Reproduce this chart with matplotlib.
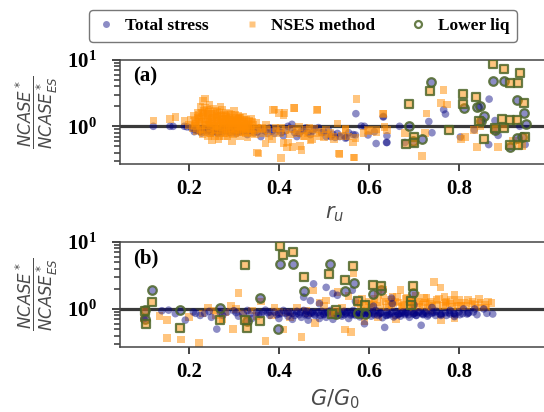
import numpy as np
import matplotlib
matplotlib.use("Agg")
import matplotlib.pyplot as plt
from matplotlib.lines import Line2D
from matplotlib.ticker import FuncFormatter, NullFormatter, LogLocator, FixedLocator

plt.rcParams["font.family"] = ["Liberation Serif", "DejaVu Serif"]
plt.rcParams["mathtext.fontset"] = "custom"
plt.rcParams["mathtext.rm"] = "DejaVu Sans"
plt.rcParams["mathtext.it"] = "DejaVu Sans:italic"
plt.rcParams["mathtext.bf"] = "Liberation Serif:bold"

# ---------------- panel (a): ratio vs r_u ----------------
a_ts_x = [0.121, 0.158, 0.165, 0.190, 0.196, 0.205, 0.210, 0.215, 0.220, 0.225,
          0.230, 0.235, 0.240, 0.245, 0.250, 0.255, 0.260, 0.265, 0.270, 0.275,
          0.280, 0.285, 0.290, 0.295, 0.300, 0.305, 0.310, 0.315, 0.320, 0.325,
          0.330, 0.335, 0.340, 0.345, 0.212, 0.228, 0.243, 0.258, 0.273, 0.288,
          0.303, 0.318, 0.333, 0.355, 0.360, 0.370, 0.380, 0.390, 0.400, 0.410,
          0.420, 0.429, 0.435, 0.440, 0.450, 0.460, 0.470, 0.480, 0.488, 0.495,
          0.505, 0.510, 0.520, 0.525, 0.535, 0.545, 0.555, 0.565, 0.570, 0.571,
          0.583, 0.598, 0.616, 0.632, 0.640, 0.640, 0.668, 0.632, 0.639, 0.680,
          0.733, 0.766, 0.770, 0.740, 0.867, 0.803, 0.834, 0.866, 0.887, 0.947,
          0.935, 0.880, 0.850, 0.590, 0.612, 0.548,
          0.218, 0.226, 0.234, 0.242, 0.252, 0.262, 0.272, 0.282, 0.292, 0.302,
          0.312, 0.322, 0.332, 0.342, 0.352, 0.365, 0.375, 0.385, 0.395, 0.405,
          0.415, 0.430, 0.445, 0.455, 0.465, 0.475, 0.500, 0.515, 0.530, 0.550]
a_ts_y = [1.00, 1.00, 1.00, 1.00, 0.98, 0.95, 0.92, 0.88, 0.90, 0.85,
          0.93, 0.87, 0.82, 0.90, 0.80, 0.86, 0.92, 0.78, 0.84, 0.90,
          0.88, 0.95, 0.82, 0.92, 0.86, 0.78, 0.90, 0.94, 0.84, 0.88,
          0.75, 0.92, 0.86, 0.80, 0.83, 0.79, 0.94, 0.85, 0.80, 0.90,
          0.83, 0.87, 0.96, 0.92, 0.70, 0.85, 0.95, 0.78, 0.88, 0.72,
          1.00, 1.07, 0.80, 0.70, 0.85, 0.95, 0.75, 0.92, 0.955, 0.80,
          0.70, 0.88, 0.76, 0.68, 0.70, 0.72, 0.80, 0.75, 0.74, 1.55,
          1.01, 0.74, 0.55, 1.38, 0.72, 0.57, 1.00, 1.41, 0.57, 0.57,
          1.18, 1.78, 1.53, 0.80, 2.57, 0.69, 0.88, 0.53, 0.73, 0.53,
          1.00, 1.22, 1.19, 1.00, 0.83, 0.66,
          0.88, 0.84, 0.90, 0.86, 0.83, 0.80, 0.88, 0.85, 0.80, 0.88,
          0.82, 0.90, 0.85, 0.90, 0.82, 0.88, 0.78, 0.85, 0.92, 0.80,
          0.86, 0.90, 0.78, 0.88, 0.80, 0.85, 0.82, 0.70, 0.78, 0.68]

a_ns_x = [0.121, 0.158, 0.170, 0.190, 0.200, 0.205, 0.208, 0.212, 0.215, 0.218,
          0.220, 0.222, 0.224, 0.226, 0.228, 0.230, 0.232, 0.234, 0.236, 0.238,
          0.240, 0.242, 0.244, 0.246, 0.248, 0.250, 0.252, 0.254, 0.256, 0.258,
          0.260, 0.262, 0.264, 0.266, 0.268, 0.270, 0.272, 0.274, 0.276, 0.278,
          0.280, 0.282, 0.284, 0.286, 0.288, 0.290, 0.292, 0.294, 0.296, 0.298,
          0.300, 0.302, 0.305, 0.308, 0.310, 0.313, 0.316, 0.318, 0.320, 0.323,
          0.326, 0.328, 0.330, 0.333, 0.336, 0.338, 0.340, 0.343, 0.346, 0.350,
          0.225, 0.235, 0.245, 0.255, 0.265, 0.275, 0.285, 0.295, 0.305, 0.315,
          0.232, 0.248, 0.262, 0.278, 0.292, 0.308, 0.322, 0.338, 0.214, 0.352,
          0.351, 0.355, 0.360, 0.365, 0.372, 0.378, 0.385, 0.387, 0.390, 0.395,
          0.400, 0.405, 0.405, 0.410, 0.410, 0.412, 0.418, 0.420, 0.425, 0.430,
          0.433, 0.435, 0.440, 0.445, 0.447, 0.450, 0.455, 0.460, 0.465, 0.470,
          0.473, 0.478, 0.484, 0.486, 0.490, 0.495, 0.500, 0.505, 0.510, 0.515,
          0.520, 0.523, 0.530, 0.533, 0.535, 0.540, 0.548, 0.548, 0.555, 0.564,
          0.566, 0.568, 0.570, 0.572, 0.588, 0.598, 0.600, 0.616, 0.617, 0.631,
          0.632, 0.635, 0.640, 0.680, 0.718, 0.725, 0.728, 0.760, 0.766, 0.774,
          0.804, 0.814, 0.834, 0.840, 0.848, 0.877, 0.887, 0.920, 0.940, 0.370,
          0.214, 0.219, 0.223, 0.227, 0.231, 0.237, 0.241, 0.247, 0.251, 0.257,
          0.261, 0.267, 0.271, 0.277, 0.281, 0.287, 0.291, 0.297, 0.301, 0.307,
          0.311, 0.317, 0.321, 0.327, 0.331, 0.337, 0.341, 0.347, 0.233, 0.243,
          0.253, 0.263, 0.273, 0.283, 0.293, 0.303, 0.313, 0.323, 0.238, 0.258,
          0.268, 0.283, 0.298, 0.312, 0.326, 0.228, 0.250, 0.270, 0.290, 0.310,
          0.362, 0.375, 0.392, 0.402, 0.415, 0.428, 0.442, 0.457, 0.468, 0.482,
          0.216, 0.221, 0.229, 0.236, 0.244, 0.252, 0.259, 0.266, 0.274, 0.281,
          0.289, 0.296, 0.304, 0.311, 0.319, 0.326, 0.334, 0.241, 0.256, 0.271,
          0.286, 0.301, 0.316, 0.331, 0.246, 0.261, 0.276, 0.291, 0.306, 0.321]
a_ns_y = [1.23, 1.30, 1.38, 1.20, 1.05, 1.25, 0.95, 1.45, 1.10, 0.85,
          1.60, 1.30, 0.90, 1.96, 1.15, 0.75, 2.40, 1.45, 2.63, 1.05,
          1.80, 0.70, 1.25, 2.10, 0.95, 1.55, 0.62, 1.35, 1.10, 1.70,
          0.85, 1.45, 1.20, 0.65, 1.60, 2.00, 1.00, 1.30, 0.78, 1.50,
          1.15, 0.90, 1.40, 0.70, 1.25, 1.55, 0.95, 1.35, 0.60, 1.10,
          1.70, 0.80, 1.30, 1.05, 1.45, 0.72, 1.20, 0.92, 1.38, 1.08,
          0.85, 1.25, 0.68, 1.15, 0.95, 1.30, 0.78, 1.05, 0.88, 1.12,
          1.05, 1.20, 1.10, 1.00, 0.92, 1.12, 1.02, 0.85, 0.98, 1.02,
          0.82, 0.78, 1.05, 0.72, 0.78, 0.88, 0.95, 0.90, 1.20, 0.95,
          0.40, 0.39, 0.92, 0.80, 1.05, 0.70, 0.64, 1.78, 1.80, 0.85,
          1.60, 0.33, 0.95, 1.47, 0.56, 1.59, 0.48, 0.57, 0.75, 0.49,
          1.88, 1.87, 0.85, 0.98, 0.50, 0.44, 0.70, 0.88, 0.78, 0.62,
          0.65, 0.92, 1.78, 1.80, 0.72, 0.82, 0.68, 0.90, 0.75, 0.80,
          0.70, 0.63, 1.10, 0.39, 0.38, 0.72, 0.88, 0.93, 0.70, 0.57,
          0.34, 0.34, 0.67, 2.57, 0.79, 0.88, 0.85, 0.90, 0.82, 1.55,
          1.53, 0.97, 0.88, 0.80, 0.36, 0.80, 1.55, 2.24, 3.55, 2.14,
          0.65, 0.69, 0.88, 0.49, 1.00, 0.88, 0.49, 0.60, 0.50, 0.55,
          1.02, 1.35, 1.18, 0.88, 1.55, 1.28, 1.40, 0.80, 1.20, 1.02,
          1.32, 0.98, 1.42, 0.95, 1.30, 1.00, 1.20, 1.15, 0.90, 1.22,
          1.00, 1.10, 0.82, 1.00, 0.92, 0.82, 1.18, 0.75, 1.70, 1.55,
          1.85, 1.68, 1.75, 1.60, 1.48, 1.50, 1.35, 1.25, 0.92, 0.72,
          0.70, 0.80, 0.75, 0.82, 0.78, 1.38, 1.28, 1.12, 1.05, 1.28,
          0.95, 0.88, 0.95, 0.78, 0.88, 0.92, 0.78, 0.72, 0.95, 0.80,
          1.12, 1.48, 1.62, 1.88, 1.65, 1.42, 1.52, 1.38, 1.25, 1.45,
          1.32, 1.25, 1.15, 1.35, 1.18, 1.05, 1.20, 1.05, 0.88, 0.86,
          0.92, 1.02, 0.95, 1.08, 1.15, 1.22, 1.18, 1.10, 1.12, 0.98]

# lower-liquefaction cases (squares: NSES method, circles: total stress)
a_lq_ns_x = [0.876, 0.901, 0.935, 0.932, 0.914, 0.736, 0.690, 0.810, 0.838, 0.810,
             0.944, 0.845, 0.896, 0.913, 0.929, 0.778, 0.881, 0.900, 0.947, 0.701,
             0.701, 0.682, 0.855, 0.931, 0.914]
a_lq_ns_y = [8.7, 7.3, 6.3, 4.5, 4.5, 3.35, 2.19, 3.06, 2.72, 2.19,
             2.24, 1.19, 1.29, 1.25, 1.25, 0.87, 0.95, 0.93, 0.69, 0.69,
             0.56, 0.55, 0.65, 0.52, 0.52]
a_lq_ts_x = [0.738, 0.876, 0.901, 0.930, 0.812, 0.839, 0.846, 0.944, 0.688, 0.855,
             0.848, 0.950, 0.880, 0.698, 0.718, 0.929, 0.940, 0.914]
a_lq_ts_y = [4.7, 4.85, 4.85, 2.5, 1.88, 1.93, 2.0, 1.59, 1.02, 1.45,
             1.19, 1.1, 0.88, 0.6, 0.65, 0.67, 0.68, 0.49]

# ---------------- panel (b): ratio vs G/G0 ----------------
b_ts_x = [0.100, 0.140, 0.155, 0.170, 0.192, 0.210, 0.225, 0.235, 0.250, 0.262,
          0.270, 0.285, 0.300, 0.310, 0.320, 0.330, 0.340, 0.350, 0.360, 0.370,
          0.380, 0.390, 0.400, 0.405, 0.410, 0.420, 0.425, 0.430, 0.440, 0.445,
          0.450, 0.455, 0.460, 0.465, 0.470, 0.475, 0.477, 0.480, 0.485, 0.490,
          0.495, 0.500, 0.505, 0.505, 0.510, 0.515, 0.520, 0.525, 0.530, 0.535,
          0.540, 0.545, 0.550, 0.555, 0.560, 0.563, 0.565, 0.570, 0.575, 0.580,
          0.585, 0.590, 0.595, 0.600, 0.605, 0.610, 0.615, 0.620, 0.625, 0.630,
          0.635, 0.640, 0.645, 0.650, 0.652, 0.655, 0.660, 0.665, 0.670, 0.675,
          0.680, 0.685, 0.690, 0.695, 0.700, 0.705, 0.710, 0.716, 0.720, 0.725,
          0.730, 0.740, 0.750, 0.760, 0.770, 0.780, 0.790, 0.800, 0.810, 0.820,
          0.835, 0.855, 0.470, 0.520, 0.560, 0.600, 0.640, 0.680, 0.720, 0.760,
          0.455, 0.490, 0.530, 0.570, 0.610, 0.650, 0.700, 0.740, 0.780, 0.520,
          0.430, 0.465, 0.500, 0.545, 0.585, 0.625, 0.665, 0.705, 0.745, 0.790,
          0.355, 0.375, 0.395, 0.415, 0.435, 0.448, 0.462, 0.478, 0.492, 0.508,
          0.522, 0.538, 0.552, 0.568, 0.582, 0.598, 0.612, 0.628, 0.642, 0.658,
          0.672, 0.688, 0.702, 0.718, 0.732, 0.748, 0.762, 0.778, 0.792, 0.808,
          0.822, 0.840, 0.862, 0.875, 0.215, 0.245, 0.275, 0.305, 0.335, 0.365,
          0.380, 0.400, 0.420, 0.440, 0.458, 0.472, 0.488, 0.502, 0.518, 0.532,
          0.548, 0.562, 0.578, 0.592, 0.608, 0.622, 0.638, 0.652, 0.668, 0.682,
          0.698, 0.712, 0.728, 0.742, 0.758, 0.772, 0.788, 0.802, 0.818, 0.832]
b_ts_y = [0.71, 0.94, 0.96, 0.85, 0.68, 0.90, 0.80, 0.86, 0.75, 0.50,
          0.88, 0.90, 0.94, 0.78, 0.85, 0.95, 0.72, 0.88, 0.82, 0.96,
          0.80, 0.90, 0.72, 0.85, 0.95, 0.78, 0.88, 0.70, 0.92, 0.82,
          0.75, 0.95, 0.85, 0.68, 1.33, 0.90, 2.37, 0.80, 0.88, 0.72,
          0.92, 0.82, 2.10, 0.75, 0.88, 0.95, 0.70, 0.85, 0.80, 0.90,
          0.78, 0.92, 0.85, 0.72, 0.88, 1.90, 0.95, 0.80, 0.86, 0.76,
          0.90, 0.60, 0.82, 0.92, 0.78, 0.86, 0.95, 0.80, 0.88, 0.74,
          0.53, 0.90, 0.82, 0.86, 1.20, 0.76, 0.92, 0.84, 0.78, 0.90,
          0.82, 0.88, 0.75, 0.92, 0.85, 0.80, 0.88, 0.57, 0.82, 0.90,
          0.78, 0.86, 0.92, 0.80, 0.88, 0.84, 0.77, 0.90, 1.00, 0.86,
          1.00, 1.00, 0.88, 0.83, 0.81, 0.84, 0.80, 0.86, 0.84, 0.83,
          1.50, 1.20, 1.60, 1.30, 1.10, 1.45, 1.15, 1.05, 0.95, 1.70,
          0.86, 0.80, 0.84, 0.82, 0.85, 0.86, 0.82, 0.80, 0.88, 0.85,
          0.85, 0.88, 0.82, 0.86, 0.80, 0.88, 0.92, 0.84, 0.80, 0.90,
          0.86, 0.82, 0.90, 0.84, 0.80, 0.86, 0.82, 0.88, 0.84, 0.80,
          0.86, 0.82, 0.88, 0.86, 0.82, 0.80, 0.86, 0.88, 0.82, 0.85,
          0.88, 0.82, 0.86, 0.84, 0.86, 0.92, 0.80, 0.88, 0.83, 0.90,
          0.90, 0.84, 0.90, 0.86, 0.82, 0.86, 0.90, 0.88, 0.82, 0.86,
          0.88, 0.84, 0.90, 0.86, 0.90, 0.84, 0.80, 0.90, 0.86, 0.90,
          0.84, 0.90, 0.86, 0.90, 0.84, 0.80, 0.86, 0.82, 0.84, 0.90]

b_ns_x = [0.100, 0.135, 0.152, 0.152, 0.183, 0.223, 0.200, 0.243, 0.260, 0.275,
          0.293, 0.298, 0.310, 0.320, 0.340, 0.360, 0.370, 0.385, 0.400, 0.410,
          0.425, 0.440, 0.450, 0.465, 0.476, 0.490, 0.505, 0.515, 0.530, 0.547,
          0.555, 0.566, 0.575, 0.585, 0.595, 0.600, 0.610, 0.620, 0.632, 0.640,
          0.648, 0.655, 0.662, 0.670, 0.675, 0.682, 0.690, 0.698, 0.705, 0.712,
          0.720, 0.728, 0.735, 0.744, 0.750, 0.759, 0.765, 0.772, 0.780, 0.790,
          0.795, 0.805, 0.820, 0.835, 0.848, 0.865, 0.790, 0.760, 0.560, 0.590,
          0.620, 0.660, 0.700, 0.735, 0.650, 0.690, 0.730, 0.770, 0.480, 0.330,
          0.600, 0.612, 0.625, 0.638, 0.652, 0.665, 0.678, 0.692, 0.708, 0.722,
          0.738, 0.752, 0.768, 0.782, 0.798, 0.812, 0.828, 0.842, 0.858, 0.872,
          0.230, 0.255, 0.280, 0.305, 0.350, 0.390, 0.420, 0.460, 0.500, 0.540,
          0.605, 0.618, 0.632, 0.645, 0.658, 0.672, 0.685, 0.698, 0.712, 0.725,
          0.740, 0.755, 0.770, 0.785, 0.800, 0.815, 0.830, 0.845, 0.860, 0.582]
b_ns_y = [0.72, 0.79, 0.68, 0.37, 0.35, 0.31, 0.75, 1.05, 0.82, 0.70,
          1.10, 0.50, 1.74, 0.85, 0.95, 1.30, 0.33, 0.80, 0.90, 0.49,
          0.75, 1.05, 0.38, 0.85, 1.88, 1.25, 1.33, 0.92, 1.80, 0.49,
          1.55, 3.40, 1.20, 1.40, 0.95, 1.30, 1.15, 1.60, 1.95, 1.05,
          1.35, 1.20, 1.50, 1.90, 1.10, 1.40, 1.25, 1.05, 1.55, 1.30,
          1.15, 1.45, 1.20, 2.50, 1.35, 2.10, 1.10, 1.30, 1.20, 1.60,
          1.25, 1.10, 1.37, 1.15, 1.25, 1.30, 0.72, 0.68, 0.45, 0.65,
          0.75, 0.70, 0.88, 0.95, 1.15, 1.10, 1.05, 1.15, 0.62, 0.70,
          1.20, 1.40, 1.10, 1.30, 1.50, 1.25, 1.15, 1.35, 1.20, 1.45,
          1.30, 1.15, 1.50, 1.35, 1.10, 1.25, 1.20, 1.05, 1.15, 1.22,
          0.85, 0.95, 0.88, 1.00, 0.78, 1.05, 0.88, 0.95, 1.10, 1.05,
          1.05, 1.25, 1.45, 1.18, 1.30, 1.08, 1.45, 1.18, 1.08, 1.25,
          1.10, 1.40, 1.25, 1.08, 1.35, 1.10, 1.30, 1.40, 1.05, 1.10]

b_lq_ns_x = [0.403, 0.431, 0.410, 0.324, 0.564, 0.512, 0.455, 0.546, 0.610, 0.627,
             0.698, 0.575, 0.592, 0.526, 0.693, 0.694, 0.518, 0.103, 0.105, 0.118,
             0.181, 0.270, 0.329, 0.358, 0.324]
b_lq_ns_y = [8.6, 7.2, 6.3, 4.57, 4.45, 3.35, 2.98, 2.72, 2.24, 2.2,
             2.2, 1.3, 1.15, 0.97, 1.3, 1.15, 0.83, 0.94, 0.6, 1.26,
             0.52, 0.68, 0.52, 0.66, 0.68]
b_lq_ts_x = [0.403, 0.431, 0.513, 0.118, 0.455, 0.546, 0.566, 0.627, 0.698, 0.610,
             0.357, 0.270, 0.181, 0.103, 0.103, 0.330, 0.399, 0.575, 0.592, 0.526]
b_lq_ts_y = [4.7, 4.7, 4.7, 1.93, 1.88, 1.85, 2.45, 1.93, 1.76, 1.66,
             1.44, 1.04, 0.98, 0.96, 0.71, 0.66, 0.50, 0.86, 0.83, 0.84]

legend_labels = ["Total stress", "NSES method", "Lower liq"]
x_ticks = [0.2, 0.4, 0.6, 0.8]

ts_face = (0.0, 0.0, 0.5, 0.45)
ns_face = (1.0, 0.55, 0.0, 0.5)
lq_edge = (0.30, 0.40, 0.16, 0.85)
spine_c = "#444444"
label_c = "#4a4a4a"

W, H = 544, 412
fig = plt.figure(figsize=(W / 100, H / 100), dpi=100)


def fig_rect(x0, y0, x1, y1):
    return [x0 / W, 1 - y1 / H, (x1 - x0) / W, (y1 - y0) / H]


ax_a = fig.add_axes(fig_rect(120, 60, 549, 164))
ax_b = fig.add_axes(fig_rect(120, 242, 549, 347))

# last flag: draw the NSES squares above the total-stress circles
panels = [
    (ax_a, a_ts_x, a_ts_y, a_ns_x, a_ns_y, a_lq_ts_x, a_lq_ts_y, a_lq_ns_x, a_lq_ns_y,
     "(a)", r"$r_u$", True),
    (ax_b, b_ts_x, b_ts_y, b_ns_x, b_ns_y, b_lq_ts_x, b_lq_ts_y, b_lq_ns_x, b_lq_ns_y,
     "(b)", r"$G/G_0$", False),
]

for (ax, tx, ty, nx, ny, lcx, lcy, lsx, lsy, tag, xl, ns_top) in panels:
    ax.axhline(1.0, color="#3a3a3a", lw=2.3, zorder=1)
    ax.scatter(nx, ny, s=30, marker="s", c=[ns_face], edgecolors="none",
               zorder=2.2 if ns_top else 2.0)
    ax.scatter(tx, ty, s=30, marker="o", c=[ts_face], edgecolors="none", zorder=2.1)
    ax.scatter(lcx, lcy, s=38, marker="o", facecolors=[ts_face],
               edgecolors=[lq_edge], linewidths=1.6, zorder=3)
    ax.scatter(lsx, lsy, s=38, marker="s", facecolors=[ns_face],
               edgecolors=[lq_edge], linewidths=1.6, zorder=3)

    ax.set_yscale("log")
    ax.set_ylim(0.27, 10)
    ax.set_xlim(0.047, 1.0)
    ax.xaxis.set_major_locator(FixedLocator(x_ticks))
    ax.set_xticklabels([f"{v:.1f}" for v in x_ticks], fontsize=15, fontweight="bold")
    ax.yaxis.set_major_locator(LogLocator(base=10))
    ax.yaxis.set_major_formatter(FuncFormatter(
        lambda v, p: r"$\mathbf{10^{%d}}$" % int(round(np.log10(v)))))
    ax.yaxis.set_minor_locator(LogLocator(base=10, subs=np.arange(2, 10)))
    ax.yaxis.set_minor_formatter(NullFormatter())
    ax.tick_params(axis="y", which="major", labelsize=15, length=6, width=1.4,
                   color=spine_c, pad=11)
    ax.tick_params(axis="y", which="minor", length=4, width=1.2, color=spine_c)
    ax.tick_params(axis="x", which="major", length=5, width=1.4, color=spine_c, pad=6)
    for side in ("left", "bottom", "top"):
        ax.spines[side].set_color(spine_c)
        ax.spines[side].set_linewidth(1.1)
    ax.spines["right"].set_visible(False)

    ax.text(0.03, 0.935, tag, transform=ax.transAxes, fontsize=15,
            fontweight="bold", va="top", ha="left")
    ax.set_xlabel(xl, fontsize=15, color=label_c, labelpad=4)

for yc in (112, 294):
    fig.text(37 / W, 1 - yc / H, r"$\dfrac{NCASE^*}{NCASE^*_{ES}}$", rotation=90,
             ha="center", va="center", fontsize=12, color=label_c)

handles = [
    Line2D([], [], ls="none", marker="o", markersize=5, markerfacecolor=ts_face,
           markeredgecolor="none"),
    Line2D([], [], ls="none", marker="s", markersize=5, markerfacecolor=ns_face,
           markeredgecolor="none"),
    Line2D([], [], ls="none", marker="o", markersize=5, markerfacecolor="none",
           markeredgecolor=lq_edge, markeredgewidth=1.6),
]
leg = fig.legend(handles, legend_labels, loc="center", bbox_to_anchor=(303 / W, 1 - 26 / H),
                 ncol=3, frameon=True, fancybox=True, columnspacing=2.0,
                 handlelength=1.0, handletextpad=0.6, borderpad=0.45,
                 prop={"family": "Liberation Serif", "weight": "bold", "size": 12.5})
leg.get_frame().set_edgecolor("#555555")
leg.get_frame().set_linewidth(1.0)

fig.savefig("out.png", dpi=100)
